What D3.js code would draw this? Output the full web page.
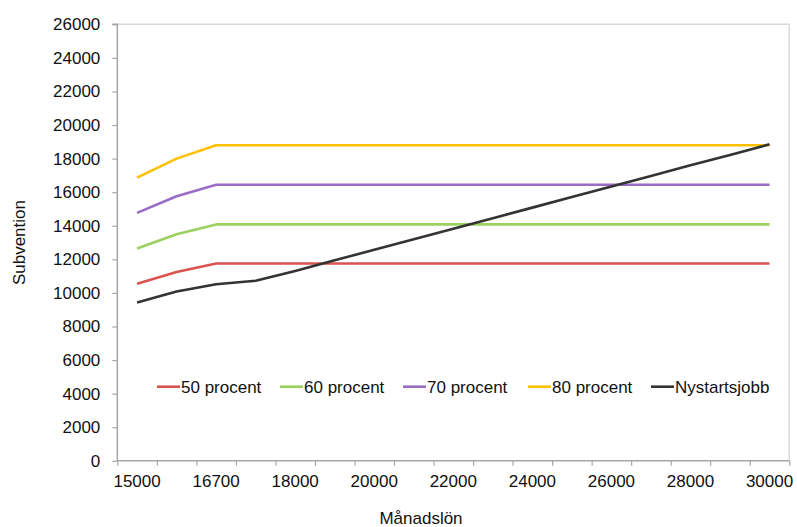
<!DOCTYPE html>
<html><head><meta charset="utf-8">
<script src="https://cdn.jsdelivr.net/npm/d3@7"></script>
<style>body{margin:0;background:#fff}svg{display:block;font-family:"Liberation Sans",Arial,sans-serif}</style>
</head><body><svg id="c" width="797" height="527"></svg>
<script>
const categories = [15000,16000,16700,17000,18000,19000,20000,21000,22000,23000,24000,25000,26000,27000,28000,29000,30000];
const tickLabels = [15000,16700,18000,20000,22000,24000,26000,28000,30000];
const yTicks = [0,2000,4000,6000,8000,10000,12000,14000,16000,18000,20000,22000,24000,26000];
const seriesNames = ["50 procent","60 procent","70 procent","80 procent","Nystartsjobb"];
const seriesColors = ["#d9534f","#9bd15f","#9a6cc6","#ffc000","#333333"];
const p50 = [10550,11250,11750,11750,11750,11750,11750,11750,11750,11750,11750,11750,11750,11750,11750,11750,11750];
const p60 = [12650,13500,14080,14080,14080,14080,14080,14080,14080,14080,14080,14080,14080,14080,14080,14080,14080];
const p70 = [14770,15760,16440,16440,16440,16440,16440,16440,16440,16440,16440,16440,16440,16440,16440,16440,16440];
const p80 = [16870,18000,18800,18800,18800,18800,18800,18800,18800,18800,18800,18800,18800,18800,18800,18800,18800];
const nyst = [9430,10080,10520,10720,11310,11940,12570,13200,13820,14450,15080,15710,16340,16970,17600,18220,18850];
const allSeries = [p50,p60,p70,p80,nyst];

const svg = d3.select("#c");
const L=117.3, R=789.3, T=24.3, B=460.8;
const x = d3.scaleBand().domain(categories).range([L,R]).padding(0);
const xi = d3.scaleLinear().domain([0,categories.length]).range([L,R]);
const y = d3.scaleLinear().domain([0,26000]).range([B,T]);

svg.append("path").attr("d",`M${L},${T}H${R}V${B}`).attr("fill","none").attr("stroke","#d9d9d9").attr("stroke-width",1.5);

const ya = svg.append("g").attr("transform",`translate(${L},0)`)
  .call(d3.axisLeft(y).tickValues(yTicks).tickSize(5).tickPadding(12).tickFormat(d3.format("d")));
ya.select(".domain").attr("stroke","#a6a6a6").attr("stroke-width",1.5).attr("d",`M-5,${T}H0V${B}`);
ya.selectAll(".tick line").attr("stroke","#a6a6a6").attr("stroke-width",1.2);
ya.selectAll("text").attr("font-size",17).attr("fill","#111").attr("font-family","Liberation Sans, Arial, sans-serif");

const xb = svg.append("g").attr("transform",`translate(0,${B})`)
  .call(d3.axisBottom(xi).tickValues(d3.range(categories.length+1)).tickSize(5).tickFormat(""));
xb.select(".domain").attr("stroke","#a6a6a6").attr("stroke-width",1.5).attr("d",`M${L},0H${R}`);
xb.selectAll(".tick line").attr("stroke","#a6a6a6").attr("stroke-width",1.2);
const xl = svg.append("g").attr("transform",`translate(0,${B})`)
  .call(d3.axisBottom(x).tickValues(tickLabels).tickSize(0).tickPadding(14).tickFormat(d3.format("d")));
xl.select(".domain").remove();
xl.selectAll("text").attr("font-size",17).attr("fill","#111").attr("font-family","Liberation Sans, Arial, sans-serif");

const line = d3.line().x((d,i)=>x(categories[i])+x.bandwidth()/2).y(d=>y(d));
allSeries.forEach((s,k)=>{
  svg.append("path").datum(s).attr("d",line).attr("fill","none")
    .attr("stroke",seriesColors[k]).attr("stroke-width",2.6).attr("stroke-linejoin","round");
});

const legX = [157,280,403,528,651];
const legY = 386.7;
seriesNames.forEach((n,k)=>{
  const g = svg.append("g").attr("transform",`translate(${legX[k]},${legY})`);
  g.append("line").attr("x1",0).attr("x2",23).attr("stroke",seriesColors[k]).attr("stroke-width",2.6);
  g.append("text").attr("x",24).attr("y",6).attr("font-size",17).attr("fill","#111").text(n);
});

svg.append("text").attr("transform",`translate(25,${(T+B)/2}) rotate(-90)`).attr("text-anchor","middle")
  .attr("font-size",17).attr("fill","#111").text("Subvention");
svg.append("text").attr("x",421).attr("y",524).attr("text-anchor","middle")
  .attr("font-size",17).attr("fill","#111").text("Månadslön");
</script></body></html>
